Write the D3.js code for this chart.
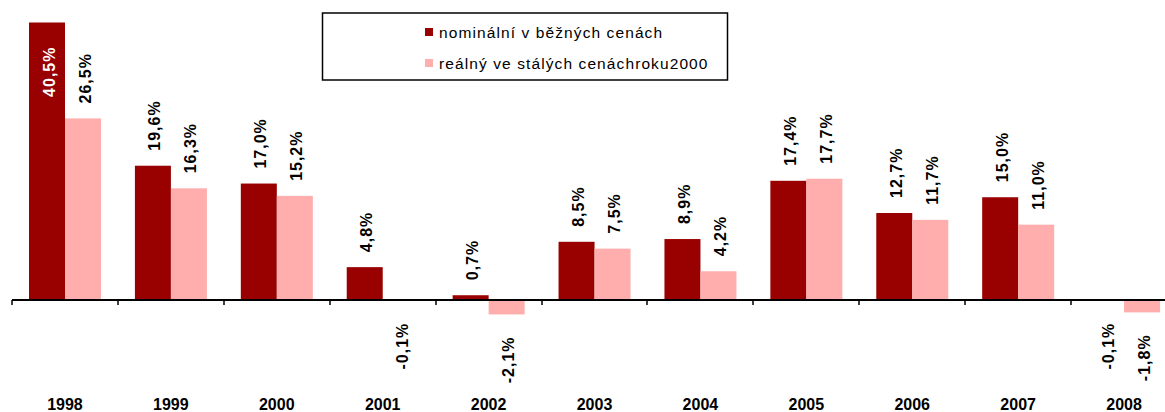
<!DOCTYPE html>
<html>
<head>
<meta charset="utf-8">
<script src="https://cdn.jsdelivr.net/npm/d3@7"></script>
<style>
  body { margin: 0; background: #fff; }
</style>
</head>
<body>
<div class="canva"></div>
<script>
const years = ["1998", "1999", "2000", "2001", "2002", "2003", "2004", "2005", "2006", "2007", "2008"];
const nominal = [40.5, 19.6, 17.0, 4.8, 0.7, 8.5, 8.9, 17.4, 12.7, 15.0, -0.1];
const real = [26.5, 16.3, 15.2, -0.1, -2.1, 7.5, 4.2, 17.7, 11.7, 11.0, -1.8];
const seriesNames = ["nominální v běžných cenách", "reálný ve stálých cenáchroku2000"];
const colors = ["#990000", "#ffadad"];

const svg = d3.select(".canva").append("svg")
    .attr("width", 1165)
    .attr("height", 412)
    .style("font-family", "Arial, 'Liberation Sans', sans-serif");

const x = d3.scaleBand().domain(years).range([12, 1177]);
const x1 = d3.scaleBand().domain([0, 1]).range([17, 89]);
const y = d3.scaleLinear().domain([-5, 40.5]).range([334.3, 22.5]);

const rows = years.map((yr, i) => ({ year: yr, values: [nominal[i], real[i]] }));
// czech style: decimal comma, plain hyphen for minus
const fmt = v => d3.format(".1f")(v).replace("−", "-").replace(".", ",") + "%";

// bars
const groups = svg.selectAll("g.yr")
    .data(rows)
    .join("g")
    .attr("class", "yr")
    .attr("transform", d => `translate(${x(d.year)},0)`);

groups.selectAll("rect")
    .data(d => d.values.map((v, s) => ({ v, s })))
    .join("rect")
    .attr("x", d => x1(d.s))
    .attr("width", x1.bandwidth())
    .attr("y", d => y(Math.max(0, d.v)))
    .attr("height", d => Math.max(0.8, Math.abs(y(d.v) - y(0))))
    .attr("fill", d => colors[d.s]);

// value labels
groups.selectAll("text")
    .data(d => d.values.map((v, s) => ({ v, s })))
    .join("text")
    .text(d => fmt(d.v))
    .attr("font-size", 16)
    .attr("font-weight", "bold")
    .attr("letter-spacing", 1)
    .attr("dominant-baseline", "central")
    .each(function (d) {
        const cx = x1(d.s) + x1.bandwidth() / 2 + 2;
        const t = d3.select(this);
        let ly, anchor, fill = "#000";
        if (d.v < 0) {
            ly = y(d.v) + 22; anchor = "end";
        } else if (y(d.v) - 15 - 52 < 0) {
            ly = y(d.v) + 24; anchor = "end"; fill = "#fff";
        } else {
            ly = y(d.v) - 15; anchor = "start";
        }
        t.attr("text-anchor", anchor)
            .attr("fill", fill)
            .attr("transform", `translate(${cx},${ly}) rotate(-90)`);
    });

// zero line + ticks
svg.append("line")
    .attr("x1", 12)
    .attr("x2", 1165)
    .attr("y1", y(0))
    .attr("y2", y(0))
    .attr("stroke", "#000")
    .attr("stroke-width", 2);

svg.selectAll("line.tick")
    .data(years)
    .join("line")
    .attr("class", "tick")
    .attr("x1", d => Math.round(x(d)))
    .attr("x2", d => Math.round(x(d)))
    .attr("y1", y(0))
    .attr("y2", y(0) + 5)
    .attr("stroke", "#000")
    .attr("stroke-width", 1.5);

// year labels
svg.selectAll("text.year")
    .data(years)
    .join("text")
    .attr("class", "year")
    .text(d => d)
    .attr("x", d => x(d) + x.bandwidth() / 2)
    .attr("y", 410)
    .attr("text-anchor", "middle")
    .attr("font-size", 16)
    .attr("font-weight", "bold");

// legend
svg.append("rect")
    .attr("x", 322.5)
    .attr("y", 13)
    .attr("width", 405)
    .attr("height", 67)
    .attr("fill", "#fff")
    .attr("stroke", "#000")
    .attr("stroke-width", 1.5);

const legend = svg.selectAll("g.leg")
    .data(seriesNames)
    .join("g")
    .attr("class", "leg")
    .attr("transform", (d, i) => `translate(425,${28 + i * 31})`);

legend.append("rect")
    .attr("width", 8)
    .attr("height", 8)
    .attr("fill", (d, i) => colors[i]);

legend.append("text")
    .text(d => d)
    .attr("x", 14)
    .attr("y", 10)
    .attr("font-size", 15.5)
    .attr("letter-spacing", 1.1)
    .attr("fill", "#000");
</script>
</body>
</html>
